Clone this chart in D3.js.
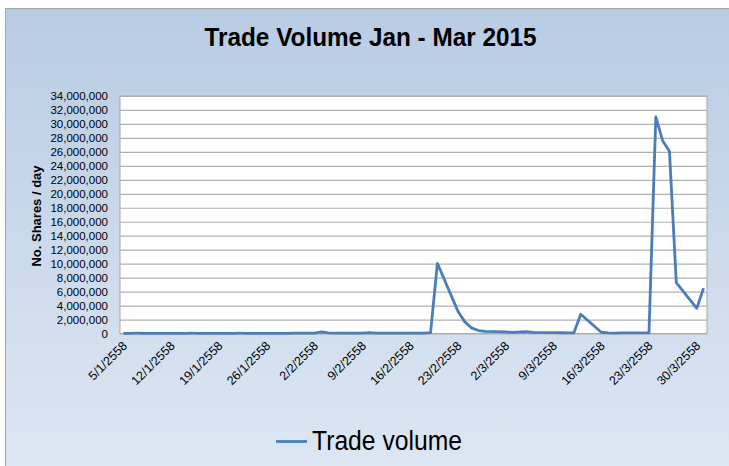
<!DOCTYPE html>
<html>
<head>
<meta charset="utf-8">
<script src="https://cdn.jsdelivr.net/npm/d3@7"></script>
<style>
body{margin:0;background:#fff;}
text{font-family:"Liberation Sans",Arial,sans-serif;fill:#000;}
</style>
</head>
<body>
<div id="chart"></div>
<script>
/* trading days Jan - Mar 2015 (Thai year 2558), Mar 4 closed */
const tradeDates = [
  "2015-01-05","2015-01-06","2015-01-07","2015-01-08","2015-01-09",
  "2015-01-12","2015-01-13","2015-01-14","2015-01-15","2015-01-16",
  "2015-01-19","2015-01-20","2015-01-21","2015-01-22","2015-01-23",
  "2015-01-26","2015-01-27","2015-01-28","2015-01-29","2015-01-30",
  "2015-02-02","2015-02-03","2015-02-04","2015-02-05","2015-02-06",
  "2015-02-09","2015-02-10","2015-02-11","2015-02-12","2015-02-13",
  "2015-02-16","2015-02-17","2015-02-18","2015-02-19","2015-02-20",
  "2015-02-23","2015-02-24","2015-02-25","2015-02-26","2015-02-27",
  "2015-03-02","2015-03-03","2015-03-05","2015-03-06",
  "2015-03-09","2015-03-10","2015-03-11","2015-03-12","2015-03-13",
  "2015-03-16","2015-03-17","2015-03-18","2015-03-19","2015-03-20",
  "2015-03-23","2015-03-24","2015-03-25","2015-03-26","2015-03-27",
  "2015-03-30","2015-03-31"
];
const tradeVolume = [
  30000,30000,40000,30000,30000,
  30000,30000,30000,40000,30000,
  30000,30000,30000,40000,30000,
  30000,30000,30000,30000,40000,
  60000,220000,90000,50000,40000,
  60000,130000,50000,40000,50000,
  50000,40000,60000,120000,10050000,
  3200000,1700000,800000,420000,300000,
  220000,160000,260000,150000,
  130000,110000,90000,110000,2750000,
  180000,80000,60000,90000,90000,
  100000,31000000,27600000,26100000,7300000,
  3600000,6500000
];
const tickDates = ["2015-01-05","2015-01-12","2015-01-19","2015-01-26","2015-02-02","2015-02-09",
  "2015-02-16","2015-02-23","2015-03-02","2015-03-09","2015-03-16","2015-03-23","2015-03-30"];
const yTicks = d3.range(0,34000001,2000000);
const chartTitle = "Trade Volume Jan - Mar 2015";
const yTitle = "No. Shares / day";
const seriesName = "Trade volume";

var W = 729, H = 466;
var plot = {left:120,right:707,top:96,bottom:333.5};
var lineColor = "#4a7ebb";

var parse = d3.timeParse("%Y-%m-%d");
var result = tradeDates.map(function(d,i){return {date:parse(d),vol:tradeVolume[i]};});

var svg = d3.select("#chart").append("svg")
  .attr("width",W).attr("height",H);

var grad = svg.append("defs").append("linearGradient")
  .attr("id","bg").attr("x1",0).attr("y1",0).attr("x2",0).attr("y2",1);
grad.append("stop").attr("offset","0%").attr("stop-color","#b8cce4");
grad.append("stop").attr("offset","100%").attr("stop-color","#dde7f3");

svg.append("rect")
  .attr("x",5.5).attr("y",8.5).attr("width",W).attr("height",H)
  .attr("fill","url(#bg)").attr("stroke","#a6a6a6");

// title
svg.append("text")
  .attr("x",370.5).attr("y",46)
  .attr("text-anchor","middle")
  .attr("font-size",26).attr("font-weight","bold")
  .attr("textLength",332).attr("lengthAdjust","spacingAndGlyphs")
  .text(chartTitle);

// scales: one slot per day, half a day of padding each side
var xScale = d3.scaleTime()
  .domain([d3.timeHour.offset(parse("2015-01-05"),-12),d3.timeHour.offset(parse("2015-03-31"),12)])
  .range([plot.left,plot.right]);
var yScale = d3.scaleLinear().domain([0,34000000]).range([plot.bottom,plot.top]);

svg.append("rect")
  .attr("x",plot.left).attr("y",plot.top)
  .attr("width",plot.right-plot.left).attr("height",plot.bottom-plot.top)
  .attr("fill","#fff").attr("stroke","#a6a6a6");

// gridlines + y labels
var yAxis = svg.append("g")
  .attr("transform","translate("+plot.left+",0)")
  .call(d3.axisLeft(yScale).tickValues(yTicks).tickSize(-(plot.right-plot.left)).tickPadding(12)
    .tickFormat(d3.format(",")));
yAxis.select(".domain").remove();
yAxis.selectAll("line").attr("stroke","#b0b0b0").attr("stroke-width",1.2);
yAxis.selectAll("text").attr("font-size",11.5).attr("font-family","Liberation Sans, Arial, sans-serif");

svg.append("text")
  .attr("transform","translate(41,216)rotate(-90)")
  .attr("text-anchor","middle")
  .attr("font-size",13).attr("font-weight","bold")
  .text(yTitle);

// x labels
var xAxis = svg.append("g")
  .attr("transform","translate(0,"+plot.bottom+")")
  .call(d3.axisBottom(xScale).tickValues(tickDates.map(parse)).tickSize(0)
    .tickFormat(function(d){return d.getDate()+"/"+(d.getMonth()+1)+"/"+(d.getFullYear()+543);}));
xAxis.select(".domain").remove();
xAxis.selectAll("text")
  .attr("font-size",12.5).attr("font-family","Liberation Sans, Arial, sans-serif")
  .attr("y",0).attr("dy",0)
  .attr("transform","translate(4,13)rotate(-45)")
  .style("text-anchor","end");

// data line
var line = d3.line()
  .x(function(d){return xScale(d.date);})
  .y(function(d){return yScale(d.vol);});
svg.append("path")
  .datum(result)
  .attr("d",line)
  .attr("fill","none")
  .attr("stroke",lineColor)
  .attr("stroke-width",2.8)
  .attr("stroke-linejoin","round");

// legend
svg.append("line")
  .attr("x1",276).attr("x2",307).attr("y1",441.5).attr("y2",441.5)
  .attr("stroke",lineColor).attr("stroke-width",2.8);
svg.append("text")
  .attr("x",312).attr("y",449.5)
  .attr("font-size",27)
  .attr("textLength",150).attr("lengthAdjust","spacingAndGlyphs")
  .text(seriesName);
</script>
</body>
</html>
